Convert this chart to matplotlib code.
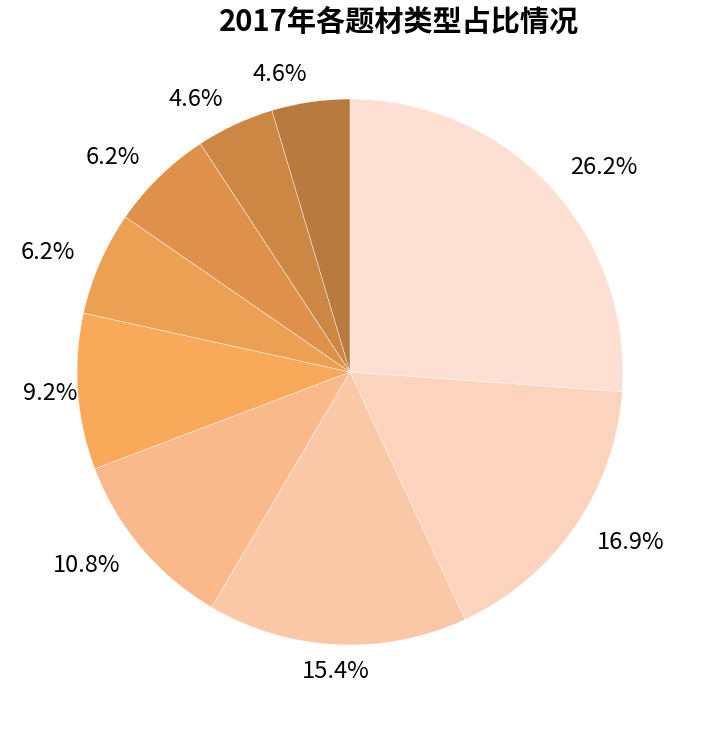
import matplotlib
matplotlib.use("Agg")
import matplotlib.pyplot as plt

plt.rcParams['font.family'] = ['Noto Sans CJK SC', 'DejaVu Sans']

title = "2017年各题材类型占比情况"
counts = [17, 11, 10, 7, 6, 4, 4, 3, 3]
colors = ["#FDE0D3", "#FCD4BE", "#FAC8A7", "#F9B98A", "#F9A95A",
          "#ECA054", "#DF914C", "#CC8744", "#B87A3F"]
total = sum(counts)
labels = [f"{c / total * 100:.1f}%" for c in counts]

fig = plt.figure(figsize=(7.01, 7.45), dpi=100)
ax = fig.add_axes([77/701, 100/745, 546/701, 546/745])
wedges, texts = ax.pie(
    counts, colors=colors, startangle=90, counterclock=False,
    labels=labels, labeldistance=1.1, radius=1,
    wedgeprops=dict(edgecolor='white', linewidth=0.3),
    textprops=dict(fontsize=17, color='black'))
texts[2].set_horizontalalignment('center')
texts[4].set_horizontalalignment('center')
ax.set_xlim(-1, 1)
ax.set_ylim(-1, 1)
ax.set_aspect('equal')
ax.axis('off')
fig.text(399/701, 1 - 22/745, title, ha='center', va='center',
         fontsize=21, fontweight='bold')
fig.savefig("out.png", dpi=100, facecolor='white')
